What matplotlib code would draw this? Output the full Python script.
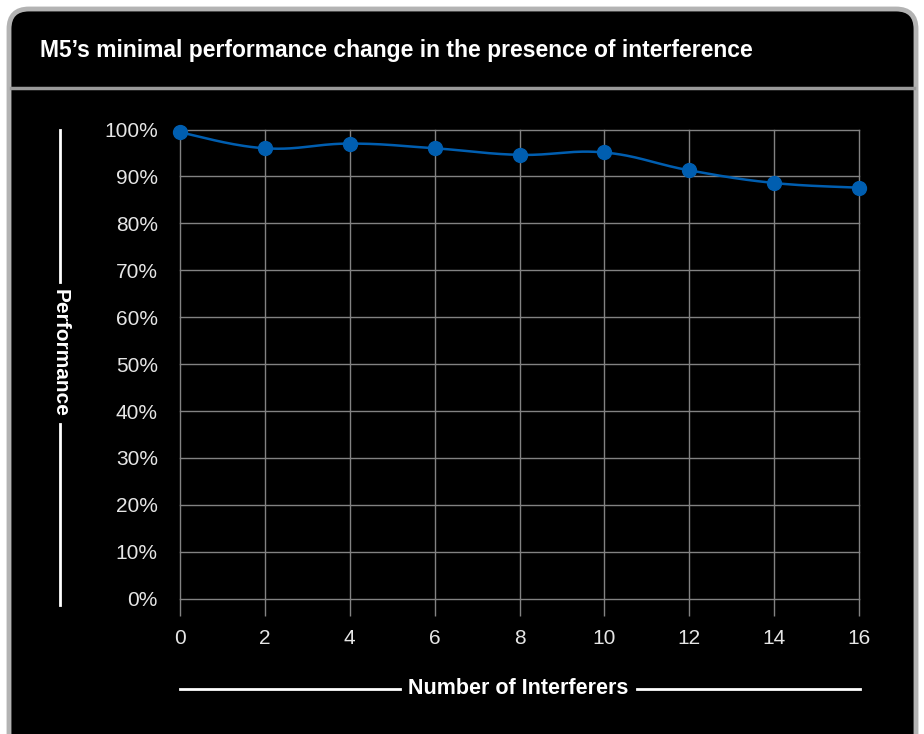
import numpy as np
import matplotlib
matplotlib.use("Agg")
import matplotlib.pyplot as plt
from matplotlib.patches import FancyBboxPatch
from matplotlib.lines import Line2D

plt.rcParams['font.family'] = ['Liberation Sans', 'DejaVu Sans']

interferers = [0, 2, 4, 6, 8, 10, 12, 14, 16]
performance = [99.4, 96.0, 97.0, 96.0, 94.6, 95.1, 91.3, 88.6, 87.6]
y_ticks = [0, 10, 20, 30, 40, 50, 60, 70, 80, 90, 100]
x_ticks = [0, 2, 4, 6, 8, 10, 12, 14, 16]

W, H = 924, 734
fig = plt.figure(figsize=(W / 100, H / 100), dpi=100, facecolor='white')

# card background
card = FancyBboxPatch((0.09, -0.3), 9.07, 7.55,
                      boxstyle="round,pad=0,rounding_size=0.2",
                      transform=fig.dpi_scale_trans, facecolor='black',
                      edgecolor='#b3b3b3', linewidth=3.5, zorder=-5)
fig.patches.append(card)
fig.add_artist(Line2D([0.11 / 9.24, 9.14 / 9.24], [1 - 88 / H, 1 - 88 / H],
                      transform=fig.transFigure, color='#9a9a9a', lw=2.5))

fig.text(40 / W, 1 - 51 / H, "M5\u2019s minimal performance change in the presence of interference",
         color='white', fontsize=16.5, fontweight='bold', va='center', ha='left')

ax = fig.add_axes([180 / W, 1 - 598.7 / H, 679 / W, 469.2 / H])
ax.set_zorder(2)
ax.set_facecolor('none')
for s in ax.spines.values():
    s.set_visible(False)

grid_c = '#828282'
ax.set_xlim(0, 16)
ax.set_ylim(0, 100)
ax.set_xticks(x_ticks)
ax.set_yticks(y_ticks)
ax.set_yticklabels([f"{v}%" for v in y_ticks])
ax.grid(True, color=grid_c, linewidth=1)
ax.set_axisbelow(True)
for gl in ax.get_xgridlines() + ax.get_ygridlines():
    gl.set_clip_on(False)
ax.tick_params(axis='x', length=12, color=grid_c, width=1, pad=10,
               labelcolor='#e6e6e6', labelsize=15)
ax.tick_params(axis='y', length=0, pad=16, labelcolor='#e6e6e6', labelsize=15)

# smooth curve (cardinal spline through the points)
x = np.array(interferers, float)
y = np.array(performance, float)
t = 0.4
xs, ys = [], []
for i in range(len(x) - 1):
    p0 = np.array([x[max(i - 1, 0)], y[max(i - 1, 0)]])
    p1 = np.array([x[i], y[i]])
    p2 = np.array([x[i + 1], y[i + 1]])
    p3 = np.array([x[min(i + 2, len(x) - 1)], y[min(i + 2, len(x) - 1)]])
    c1 = p1 + (p2 - p0) * t / 2
    c2 = p2 - (p3 - p1) * t / 2
    s = np.linspace(0, 1, 30)[:, None]
    pts = (1 - s) ** 3 * p1 + 3 * (1 - s) ** 2 * s * c1 + 3 * (1 - s) * s ** 2 * c2 + s ** 3 * p2
    xs.extend(pts[:, 0])
    ys.extend(pts[:, 1])
ax.plot(xs, ys, color='#005eb0', lw=1.8, clip_on=False, zorder=3)
ax.plot(interferers, performance, 'o', color='#005eb0', markersize=10, clip_on=False, zorder=4)

# axis titles with flanking lines
fig.text(60 / W, 1 - 353 / H, "Performance", color='white', fontsize=15,
         fontweight='bold', rotation=-90, ha='center', va='center')
fig.add_artist(Line2D([60 / W, 60 / W], [1 - 130 / H, 1 - 282 / H], transform=fig.transFigure, color='white', lw=2))
fig.add_artist(Line2D([60 / W, 60 / W], [1 - 424 / H, 1 - 605 / H], transform=fig.transFigure, color='white', lw=2))

fig.text(518 / W, 1 - 688 / H, "Number of Interferers", color='white', fontsize=15.5,
         fontweight='bold', ha='center', va='center')
fig.add_artist(Line2D([180 / W, 400 / W], [1 - 689 / H, 1 - 689 / H], transform=fig.transFigure, color='white', lw=2))
fig.add_artist(Line2D([637 / W, 860 / W], [1 - 689 / H, 1 - 689 / H], transform=fig.transFigure, color='white', lw=2))

fig.savefig("out.png", dpi=100, facecolor='white')
